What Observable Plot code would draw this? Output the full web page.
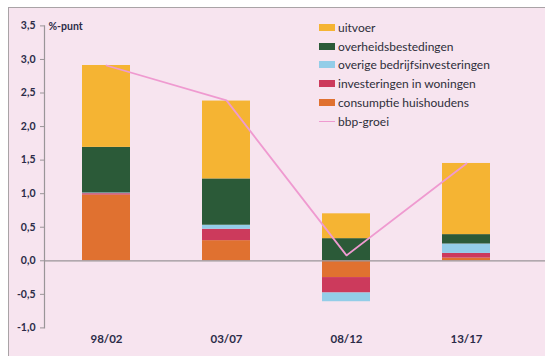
<!DOCTYPE html>
<html>
<head>
<meta charset="utf-8">
<script src="https://cdn.jsdelivr.net/npm/d3@7"></script>
<script src="https://cdn.jsdelivr.net/npm/@observablehq/plot@0.6"></script>
<style>
  html, body { margin: 0; padding: 0; background: #fff; }
  #wrap { position: relative; width: 545px; height: 356px; overflow: hidden; font-family: Lato, "Noto Sans", sans-serif; }
  #panel { position: absolute; left: 8px; top: 7px; right: 0; bottom: 0; background: #f7e4ef; border-top: 1.5px solid #a9a3a6; border-left: 1.5px solid #a9a3a6; }
  #chart { position: absolute; left: 0; top: 0; }
  #legend { position: absolute; left: 319px; top: 18px; font-size: 12px; color: #2e2e3a; }
  .row { height: 18.8px; display: flex; align-items: center; }
  .sw { width: 16px; height: 7px; margin-right: 3px; }
  .ln { width: 16px; height: 1.5px; margin-right: 3px; }
</style>
</head>
<body>
<div id="wrap"><div id="panel"></div><div id="chart"></div><div id="legend"></div></div>
<script>
const periods = ["98/02", "03/07", "08/12", "13/17"];
const seriesNames = ["consumptie huishoudens", "investeringen in woningen", "overige bedrijfsinvesteringen", "overheidsbestedingen", "uitvoer"];
const seriesColors = ["#e07130", "#cc3a5c", "#93cde8", "#2b5a38", "#f5b433"];
const consumptie = [0.98, 0.30, -0.25, 0.04];
const woningen = [0.02, 0.17, -0.23, 0.07];
const overige = [0.01, 0.06, -0.13, 0.14];
const overheid = [0.68, 0.69, 0.33, 0.14];
const uitvoer = [1.22, 1.16, 0.37, 1.06];
const bbpGroei = [2.91, 2.39, 0.08, 1.45];
const yTicks = [-1, -0.5, 0, 0.5, 1, 1.5, 2, 2.5, 3, 3.5];
const legendOrder = ["uitvoer", "overheidsbestedingen", "overige bedrijfsinvesteringen", "investeringen in woningen", "consumptie huishoudens"];
const lineColor = "#ef9ad0";

const seriesValues = [consumptie, woningen, overige, overheid, uitvoer];
const bars = [];
seriesNames.forEach((s, i) => periods.forEach((p, j) => bars.push({period: p, series: s, value: seriesValues[i][j]})));
const bbp = periods.map((p, j) => ({period: p, value: bbpGroei[j]}));

const fmt = d => d.toFixed(1).replace(".", ",");

const plot = Plot.plot({
  width: 545,
  height: 356,
  marginLeft: 44,
  marginRight: 0,
  marginTop: 25.4,
  marginBottom: 28.6,
  style: {background: "transparent", fontFamily: "Lato, 'Noto Sans', sans-serif"},
  x: {domain: periods, paddingInner: 0.6, paddingOuter: 0.379, align: 0.405, axis: null},
  y: {domain: [-1, 3.5], axis: null},
  color: {domain: seriesNames, range: seriesColors},
  marks: [
    Plot.barY(bars, Plot.stackY({x: "period", y: "value", fill: "series", order: seriesNames})),
    Plot.ruleY([0], {stroke: "#9a9598", strokeWidth: 1.2}),
    Plot.frame({anchor: "left", stroke: "#9a9598", strokeWidth: 1.2}),
    Plot.axisY({ticks: yTicks, tickFormat: fmt, tickSize: 4, tickPadding: 5, stroke: "#9a9598", fill: "#2b2b48", fontSize: 10.5, fontWeight: "bold", label: null}),
    Plot.axisX({tickSize: 0, tickPadding: 7, fill: "#2b2b48", fontSize: 11.5, fontWeight: "bold", label: null}),
    Plot.line(bbp, {x: "period", y: "value", stroke: lineColor, strokeWidth: 1.8}),
    Plot.text(["%-punt"], {frameAnchor: "top-left", dx: 4, dy: 1, textAnchor: "start", lineAnchor: "middle", fontSize: 10.5, fontWeight: "bold", fill: "#2b2b48"})
  ]
});
document.getElementById("chart").appendChild(plot);

const legend = document.getElementById("legend");
legendOrder.forEach(name => {
  const row = document.createElement("div");
  row.className = "row";
  const sw = document.createElement("div");
  sw.className = "sw";
  sw.style.background = seriesColors[seriesNames.indexOf(name)];
  const t = document.createElement("span");
  t.textContent = name;
  row.appendChild(sw); row.appendChild(t);
  legend.appendChild(row);
});
const lrow = document.createElement("div");
lrow.className = "row";
const ln = document.createElement("div");
ln.className = "ln";
ln.style.background = lineColor;
const lt = document.createElement("span");
lt.textContent = "bbp-groei";
lrow.appendChild(ln); lrow.appendChild(lt);
legend.appendChild(lrow);
</script>
</body>
</html>
